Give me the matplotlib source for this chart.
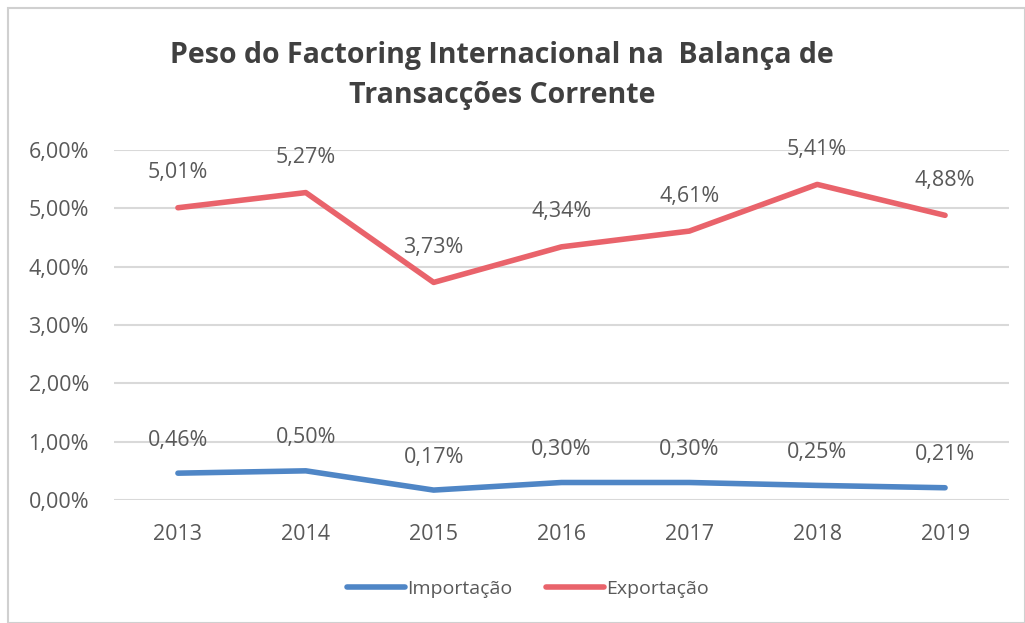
import matplotlib
matplotlib.use("Agg")
import matplotlib.pyplot as plt
from matplotlib.patches import Rectangle
from matplotlib.ticker import FuncFormatter

years = ["2013", "2014", "2015", "2016", "2017", "2018", "2019"]
importacao = [0.46, 0.50, 0.17, 0.30, 0.30, 0.25, 0.21]
exportacao = [5.01, 5.27, 3.73, 4.34, 4.61, 5.41, 4.88]
title = "Peso do Factoring Internacional na  Balança de\nTransacções Corrente"

plt.rcParams['font.family'] = ['Open Sans', 'DejaVu Sans']

W, H = 1025, 623
fig = plt.figure(figsize=(W/100, H/100), dpi=100)
fig.patch.set_facecolor('white')
fig.patches.append(Rectangle((8/W, 0), (W-8)/W, (H-8)/H, transform=fig.transFigure,
                             fill=False, edgecolor='#d0d0d0', linewidth=1.5))

ax = fig.add_axes([114/W, 1-500/H, (1009-114)/W, (500-150)/H])
x = list(range(len(years)))
blue = '#4f86c6'
red = '#e9636b'
ax.plot(x, importacao, color=blue, lw=4, solid_capstyle='round', label='Importação')
ax.plot(x, exportacao, color=red, lw=4, solid_capstyle='round', label='Exportação')

def fmt(v):
    return f"{v:.2f}".replace('.', ',') + '%'

for xi, v in zip(x, importacao):
    ax.annotate(fmt(v), (xi, v), xytext=(0, 33), textcoords='offset pixels',
                ha='center', va='center', fontsize=15.5, color='#595959')
for xi, v in zip(x, exportacao):
    ax.annotate(fmt(v), (xi, v), xytext=(0, 35), textcoords='offset pixels',
                ha='center', va='center', fontsize=15.5, color='#595959')

ax.set_xlim(-0.5, len(years)-0.5)
ax.set_ylim(0, 6)
ax.set_yticks([0, 1, 2, 3, 4, 5, 6])
ax.yaxis.set_major_formatter(FuncFormatter(lambda v, p: fmt(v)))
ax.set_xticks(x)
ax.set_xticklabels(years)
ax.tick_params(axis='both', length=0, labelsize=15.5, labelcolor='#595959')
ax.tick_params(axis='y', pad=18)
ax.tick_params(axis='x', pad=17)
ax.grid(axis='y', color='#d9d9d9', lw=1.5)
ax.set_axisbelow(True)
for s in ax.spines.values():
    s.set_visible(False)

fig.text(0.49, 1-76/H, title, ha='center', va='center', fontsize=20.5, fontweight='bold',
         color='#404040', linespacing=1.5)

leg = fig.legend(loc='center', bbox_to_anchor=(0.515, 1-589/H), ncol=2, frameon=False,
                 fontsize=14, handlelength=3.0, columnspacing=1.7, handletextpad=0.1,
                 labelcolor='#595959')
plt.savefig('out.png', dpi=100)
